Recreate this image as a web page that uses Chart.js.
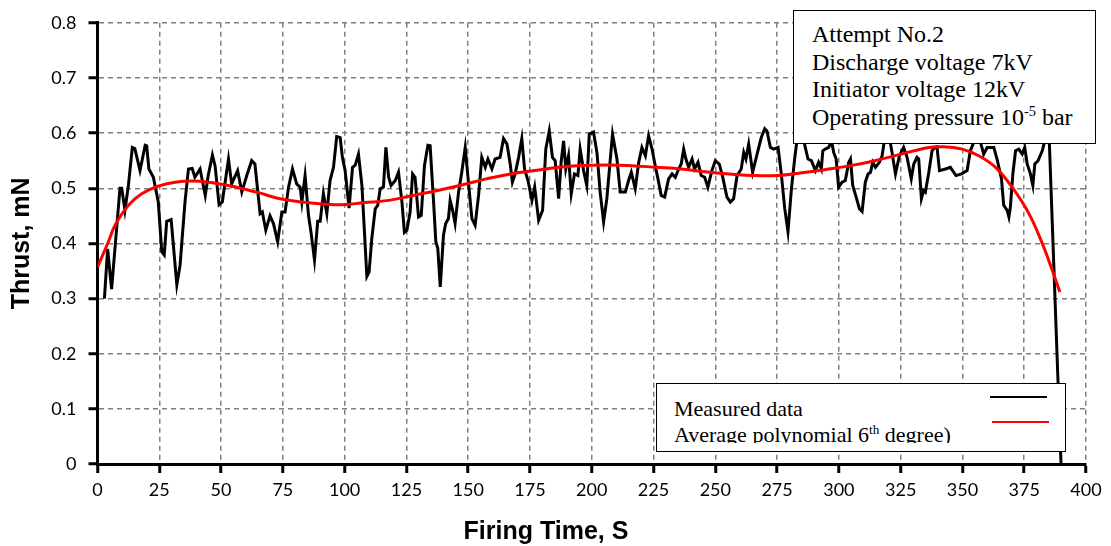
<!DOCTYPE html>
<html>
<head>
<meta charset="utf-8">
<script src="https://cdn.jsdelivr.net/npm/chart.js@4.4.0/dist/chart.umd.min.js"></script>
<style>
  html, body { margin: 0; padding: 0; background: #fff; }
  #wrap { position: relative; width: 1111px; height: 546px; overflow: hidden; }
  #chart { position: absolute; left: 0; top: 0; }
  .box { position: absolute; background: #fff; border: 1.5px solid #000; box-sizing: border-box; }
  .serif { position: absolute; font-family: "Liberation Serif", "Times New Roman", serif; color: #000; white-space: nowrap; }
  .serif sup { font-size: 0.6em; vertical-align: super; line-height: 0; }
  .legline { position: absolute; height: 2px; }
</style>
</head>
<body>
<div id="wrap">
  <canvas id="chart" width="1111" height="546"></canvas>

  <div class="box" style="left:793px; top:10px; width:303px; height:134px;"></div>
  <div class="serif" style="left:812px; top:21px; font-size:24px; line-height:27.5px;">
    Attempt No.2<br>Discharge voltage 7kV<br>Initiator voltage 12kV<br>Operating pressure 10<sup>-5</sup> bar
  </div>

  <div class="box" style="left:656px; top:383px; width:410px; height:69px;"></div>
  <div class="serif" style="left:674px; top:396px; height:47px; overflow:hidden; font-size:22px; line-height:25.7px;">
    Measured data<br>Average polynomial 6<sup>th</sup> degree)
  </div>
  <div class="legline" style="left:990px; top:396px; width:57px; background:#000;"></div>
  <div class="legline" style="left:992px; top:421px; width:57px; background:#f00;"></div>
</div>

<script>
// measured thrust (black)
const measuredTime = [
  2.8, 4.1, 5.7, 9.1, 9.8, 11.1, 12.5, 14.1, 15.1, 17.2, 19.3, 19.9, 20.8, 22.6, 24.6, 26.0, 27.0, 28.0, 29.8, 32.1,
  33.4, 35.4, 36.8, 38.3, 39.4, 41.5, 43.6, 44.8, 46.5, 47.6, 49.2, 50.5, 53.0, 54.3, 56.7, 58.4, 60.4, 62.4, 63.7, 65.8,
  66.7, 68.1, 69.8, 71.2, 72.9, 74.6, 75.9, 77.3, 78.9, 80.6, 82.0, 82.7, 84.0, 85.4, 86.4, 87.8, 89.1, 90.1, 91.4, 92.8,
  94.1, 95.5, 96.8, 98.2, 99.1, 100.2, 101.8, 103.2, 104.3, 105.6, 107.0, 109.0, 109.9, 111.0, 112.4, 113.4, 114.4, 115.7, 116.7, 117.8,
  118.8, 120.5, 121.8, 123.2, 124.2, 125.2, 126.5, 127.5, 128.5, 129.9, 131.0, 132.3, 133.7, 134.6, 136.0, 136.9, 137.7, 138.7, 140.0, 140.9,
  142.0, 142.7, 143.7, 144.7, 146.1, 147.4, 148.8, 150.1, 151.5, 152.8, 154.2, 155.5, 156.9, 158.0, 159.6, 160.9, 162.9, 164.3, 165.7, 167.0,
  167.9, 169.0, 170.4, 171.7, 172.8, 174.2, 175.8, 176.9, 178.5, 180.1, 181.4, 182.8, 184.1, 185.2, 186.6, 187.6, 188.6, 189.5, 190.6, 191.7,
  193.0, 194.4, 195.3, 196.7, 198.0, 199.0, 200.7, 202.1, 203.4, 204.8, 206.1, 208.4, 210.2, 211.5, 213.6, 214.9, 216.0, 217.6, 219.0, 220.3,
  221.7, 223.0, 224.4, 225.4, 226.8, 228.1, 229.5, 231.1, 232.5, 233.8, 235.2, 236.2, 237.2, 238.1, 239.2, 240.6, 241.6, 243.0, 244.3, 245.7,
  247.0, 248.6, 250.0, 251.6, 253.0, 254.7, 256.1, 257.4, 258.8, 260.5, 261.5, 262.4, 263.5, 265.1, 266.9, 268.6, 270.0, 270.9, 272.3, 273.6,
  275.4, 276.7, 278.1, 279.4, 280.8, 282.1, 283.1, 284.8, 286.4, 287.5, 288.9, 290.5, 291.8, 292.9, 293.5, 294.5, 295.9, 297.0, 297.9, 298.9,
  299.9, 301.3, 302.6, 304.0, 304.7, 305.6, 307.0, 308.3, 309.4, 310.7, 311.8, 312.8, 313.7, 314.8, 316.4, 317.5, 318.2, 319.8, 321.5, 322.9,
  324.5, 326.2, 327.6, 329.3, 330.3, 331.6, 332.3, 333.4, 334.3, 335.0, 336.4, 337.7, 338.8, 339.7, 340.7, 343.1, 345.1, 347.4, 349.6, 351.9,
  353.2, 354.2, 356.0, 357.7, 358.6, 360.0, 361.3, 362.7, 364.0, 365.8, 366.7, 368.1, 368.8, 369.4, 370.4, 371.5, 372.8, 374.2, 375.2, 376.2,
  377.5, 378.5, 379.3, 380.6, 382.3, 383.3, 384.6, 385.2, 388.7, 389.9
];
const measuredThrust = [
  0.300, 0.390, 0.317, 0.500, 0.500, 0.460, 0.505, 0.574, 0.572, 0.532, 0.578, 0.577, 0.535, 0.520, 0.475, 0.385, 0.379, 0.440, 0.443, 0.325,
  0.360, 0.475, 0.535, 0.536, 0.520, 0.535, 0.487, 0.523, 0.560, 0.540, 0.470, 0.475, 0.553, 0.508, 0.532, 0.493, 0.523, 0.550, 0.544, 0.454,
  0.457, 0.424, 0.450, 0.436, 0.403, 0.457, 0.457, 0.502, 0.535, 0.508, 0.502, 0.475, 0.523, 0.450, 0.420, 0.370, 0.440, 0.440, 0.490, 0.454,
  0.514, 0.538, 0.594, 0.592, 0.556, 0.532, 0.464, 0.538, 0.542, 0.562, 0.505, 0.340, 0.348, 0.409, 0.463, 0.469, 0.499, 0.502, 0.574, 0.520,
  0.505, 0.514, 0.529, 0.475, 0.420, 0.424, 0.457, 0.526, 0.520, 0.448, 0.451, 0.541, 0.578, 0.577, 0.475, 0.403, 0.391, 0.321, 0.415, 0.436,
  0.445, 0.478, 0.460, 0.436, 0.493, 0.529, 0.574, 0.511, 0.445, 0.433, 0.487, 0.556, 0.538, 0.553, 0.535, 0.553, 0.556, 0.590, 0.580, 0.544,
  0.511, 0.526, 0.556, 0.590, 0.535, 0.514, 0.478, 0.502, 0.442, 0.460, 0.571, 0.604, 0.556, 0.550, 0.481, 0.547, 0.586, 0.535, 0.559, 0.490,
  0.526, 0.523, 0.571, 0.532, 0.505, 0.598, 0.602, 0.565, 0.493, 0.439, 0.481, 0.598, 0.553, 0.493, 0.493, 0.514, 0.529, 0.499, 0.547, 0.574,
  0.559, 0.595, 0.571, 0.547, 0.517, 0.487, 0.484, 0.517, 0.526, 0.520, 0.535, 0.544, 0.571, 0.553, 0.538, 0.553, 0.535, 0.547, 0.523, 0.520,
  0.502, 0.532, 0.550, 0.544, 0.520, 0.484, 0.475, 0.481, 0.523, 0.535, 0.565, 0.553, 0.580, 0.529, 0.562, 0.592, 0.608, 0.604, 0.574, 0.571,
  0.574, 0.526, 0.463, 0.421, 0.499, 0.553, 0.589, 0.610, 0.574, 0.553, 0.550, 0.532, 0.547, 0.535, 0.568, 0.571, 0.574, 0.586, 0.565, 0.553,
  0.502, 0.511, 0.514, 0.547, 0.553, 0.505, 0.484, 0.463, 0.458, 0.511, 0.526, 0.529, 0.547, 0.538, 0.547, 0.559, 0.580, 0.610, 0.565, 0.526,
  0.559, 0.574, 0.556, 0.517, 0.544, 0.556, 0.553, 0.481, 0.496, 0.493, 0.529, 0.568, 0.574, 0.575, 0.532, 0.535, 0.538, 0.523, 0.526, 0.532,
  0.568, 0.579, 0.610, 0.577, 0.562, 0.574, 0.574, 0.574, 0.553, 0.517, 0.469, 0.460, 0.448, 0.466, 0.526, 0.568, 0.571, 0.562, 0.574, 0.544,
  0.526, 0.505, 0.544, 0.550, 0.568, 0.586, 0.600, 0.579, 0.147, 0.000
];

// 6th degree polynomial average (red)
const fitTime = [
  0.0, 4.4, 7.1, 12.5, 17.9, 24.6, 31.4, 38.1, 44.9, 53.0, 59.7, 65.1, 73.8, 84.7, 98.3, 108.0, 117.9, 127.7, 137.6, 147.4,
  157.3, 167.1, 177.0, 186.8, 194.0, 206.4, 216.3, 226.1, 236.0, 245.8, 255.7, 265.5, 275.4, 285.1, 294.9, 304.8, 314.6, 323.6, 336.4, 343.1,
  349.9, 356.6, 363.4, 370.1, 376.9, 382.3, 386.3, 389.4
];
const fitThrust = [
  0.357, 0.403, 0.433, 0.469, 0.490, 0.504, 0.511, 0.513, 0.511, 0.505, 0.498, 0.492, 0.481, 0.474, 0.470, 0.474, 0.478, 0.487, 0.496, 0.506,
  0.517, 0.526, 0.532, 0.538, 0.541, 0.542, 0.541, 0.538, 0.535, 0.530, 0.526, 0.523, 0.523, 0.528, 0.534, 0.541, 0.550, 0.560, 0.574, 0.575,
  0.571, 0.559, 0.538, 0.502, 0.454, 0.400, 0.352, 0.312
];

const xMin = 0, xMax = 400, xStep = 25;
const yMin = 0, yMax = 0.8, yStep = 0.1;

const toPoints = (xs, ys) => xs.map((x, i) => ({ x: x, y: ys[i] }));

// axis titles drawn by hand so they sit where the original has them
const axisTitles = {
    id: 'axisTitles',
    afterDraw(chart) {
        const { ctx, chartArea } = chart;
        ctx.save();
        ctx.fillStyle = '#000';
        ctx.font = 'bold 25px "Liberation Sans", Arial, sans-serif';
        ctx.textAlign = 'center';
        ctx.textBaseline = 'middle';
        ctx.fillText('Firing Time, S', 546, 532);
        ctx.translate(22, (chartArea.top + chartArea.bottom) / 2);
        ctx.rotate(-Math.PI / 2);
        ctx.fillText('Thrust, mN', 0, 0);
        ctx.restore();
    }
};

const gridStyle = {
    color: '#808080',
    lineWidth: 1.5,
    tickColor: '#000',
    tickLength: 9,
    tickWidth: 3
};
const borderStyle = { color: '#000', width: 3, dash: [5, 4] };
const tickFont = { family: 'Lato, "Liberation Sans", sans-serif', size: 18 };

new Chart(document.getElementById('chart').getContext('2d'), {
    type: 'line',
    data: {
        datasets: [
            {
                label: 'Average polynomial 6th degree)',
                data: toPoints(fitTime, fitThrust),
                borderColor: '#ff0000',
                borderWidth: 3,
                pointRadius: 0,
                tension: 0.4,
                fill: false
            },
            {
                label: 'Measured data',
                data: toPoints(measuredTime, measuredThrust),
                borderColor: '#000000',
                borderWidth: 3,
                pointRadius: 0,
                tension: 0,
                fill: false
            }
        ]
    },
    options: {
        responsive: false,
        animation: false,
        layout: { padding: { top: 22, right: 25, left: 0, bottom: 0 } },
        plugins: {
            legend: { display: false },
            tooltip: { enabled: false }
        },
        scales: {
            x: {
                type: 'linear',
                min: xMin,
                max: xMax,
                grid: gridStyle,
                border: borderStyle,
                ticks: { stepSize: xStep, color: '#000', font: tickFont, padding: 6, maxRotation: 0 },
                afterFit: scale => { scale.height = 82; }
            },
            y: {
                min: yMin,
                max: yMax,
                grid: gridStyle,
                border: borderStyle,
                ticks: { stepSize: yStep, color: '#000', font: tickFont, padding: 12 },
                afterFit: scale => { scale.width = 97.5; }
            }
        }
    },
    plugins: [axisTitles]
});
</script>
</body>
</html>
